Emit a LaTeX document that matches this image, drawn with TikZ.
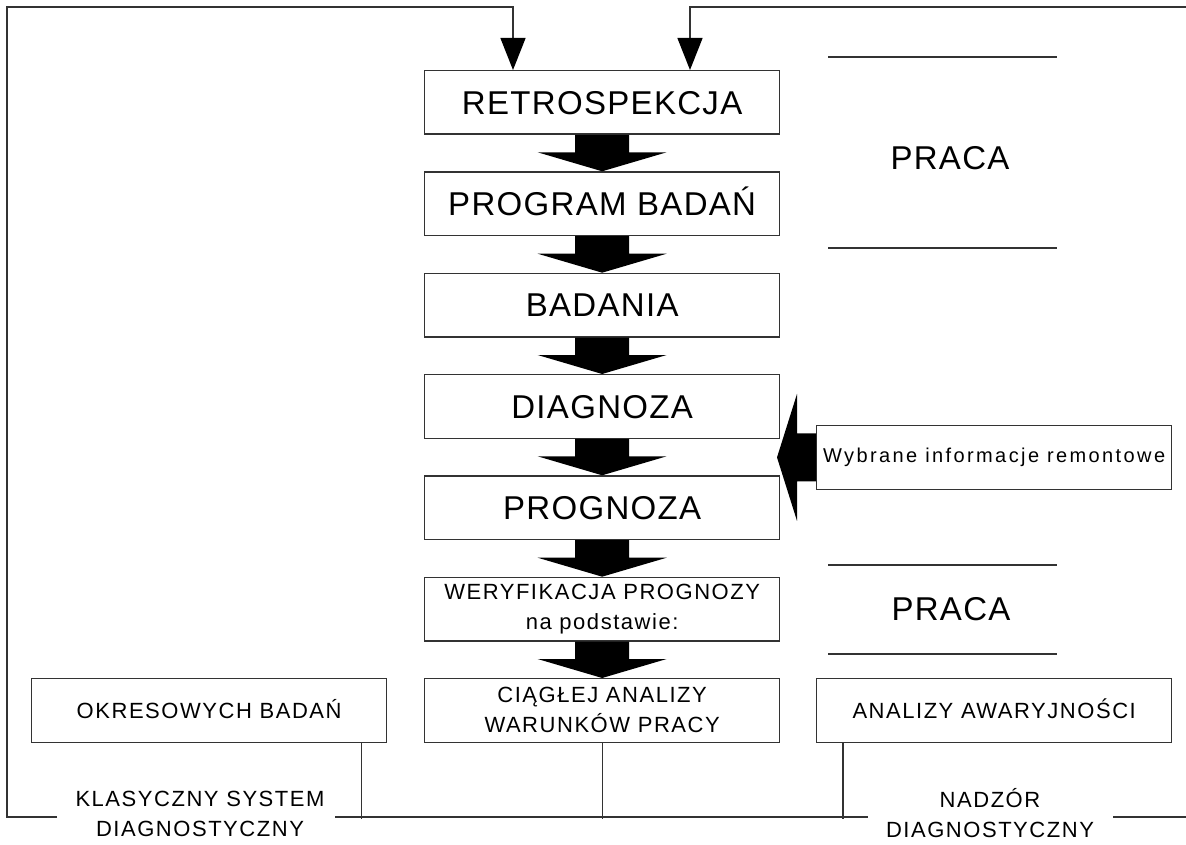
\documentclass[tikz,border=0pt]{standalone}
\usepackage{fontspec}
\setmainfont{Liberation Sans}
\newfontfamily\bigf[LetterSpace=4]{Liberation Sans}
\newfontfamily\midf[LetterSpace=7]{Liberation Sans}
\newfontfamily\wybf[LetterSpace=12]{Liberation Sans}
\usetikzlibrary{arrows.meta,calc}
\begin{document}
\begin{tikzpicture}[x=1pt,y=-1pt,
  ln/.style={draw=black!80, line width=1.3pt},
  box/.style={ln, minimum width=355pt, minimum height=63.5pt, inner sep=0pt, anchor=north west, align=center},
  bigtxt/.style={font=\bigf\fontsize{33}{39}\selectfont, text height=23.6pt, text depth=0pt},
  midone/.style={font=\midf\fontsize{22}{30}\selectfont, text height=15.8pt, text depth=0pt},
  midtxt/.style={font=\midf\fontsize{22}{30}\selectfont},
  wybtxt/.style={font=\wybf\fontsize{20}{24}\selectfont},
  tipline/.style={ln, -{Triangle[width=25pt,length=32pt,color=black,fill=black]}}
]
\fill[white] (0,0) rectangle (1186,845);
\useasboundingbox (0,0) rectangle (1186,845);

% main column
\node[box,bigtxt] (b1) at (424,70) {RETROSPEKCJA};
\node[box,bigtxt] (b2) at (424,171.3) {PROGRAM BADAŃ};
\node[box,bigtxt] (b3) at (424,272.7) {BADANIA};
\node[box,bigtxt] (b4) at (424,374) {DIAGNOZA};
\node[box,bigtxt] (b5) at (424,475.3) {PROGNOZA};
\node[box,midtxt] (b6) at (424,576.7) {WERYFIKACJA PROGNOZY\\na podstawie:};
\node[box,midtxt] (b7) at (424,678) {CIĄGŁEJ ANALIZY\\WARUNKÓW PRACY};

% side boxes
\node[box,midone] (ok) at (31,678) {OKRESOWYCH BADAŃ};
\node[box,midone] (an) at (816,678) {ANALIZY AWARYJNOŚCI};
\node[box,wybtxt] (wy) at (816,425) {Wybrane informacje remontowe};

% big block arrows
\foreach \a/\b in {b1/b2,b2/b3,b3/b4,b4/b5,b5/b6,b6/b7} {
  \fill[black] let \p1=(\a.south), \p2=(\b.north) in
    (\x1-27pt,\y1) -- (\x1+27pt,\y1) -- (\x1+27pt,\y2+19pt) -- (\x1+64.5pt,\y2+19pt)
    -- (\x2,\y2) -- (\x1-64.5pt,\y2+19pt) -- (\x1-27pt,\y2+19pt) -- cycle;
}

% left-pointing block arrow
\fill[black] let \p1=(wy.west) in
  (\x1,\y1+24pt) -- (\x1-19pt,\y1+24pt) -- (\x1-19pt,\y1+63.5pt) -- (\x1-39pt,\y1)
  -- (\x1-19pt,\y1-63.5pt) -- (\x1-19pt,\y1-24pt) -- (\x1,\y1-24pt) -- cycle;

% PRACA
\draw[ln] (828,57) -- (1057,57);
\draw[ln] (828,248) -- (1057,248);
\node[bigtxt] (p1) at (950,158) {PRACA};
\draw[ln] (828,565) -- (1057,565);
\draw[ln] (828,654) -- (1057,654);
\node[bigtxt] (p2) at (951,609) {PRACA};

% bottom labels
\node[midtxt, align=center] (ksd) at (200,813.5) {KLASYCZNY SYSTEM\\DIAGNOSTYCZNY};
\node[midtxt, align=center] (nd) at (990,813.5) {NADZÓR\\DIAGNOSTYCZNY};

% feedback lines
\coordinate (lstart) at (57,817);
\draw[tipline] (lstart) -- (7,817) -- (7,7) -- (513,7) -- ([xshift=89pt]b1.north west);
\coordinate (rstart) at (1186,7);
\draw[tipline] (rstart) -- (690,7) -- ([xshift=266pt]b1.north west);

% bottom line and drops
\coordinate (m1) at (335,817);
\coordinate (m2) at (868,817);
\coordinate (r1) at (1113,817);
\coordinate (r2) at (1186,817);
\draw[ln] (m1) -- (m2);
\draw[ln] (r1) -- (r2);
\draw[ln] ([xshift=-26pt]ok.south east) -- ++(0,76);
\draw[ln] (b7.south) -- ++(0,76);
\draw[ln] ([xshift=27pt]an.south west) -- ++(0,76);
\end{tikzpicture}
\end{document}
